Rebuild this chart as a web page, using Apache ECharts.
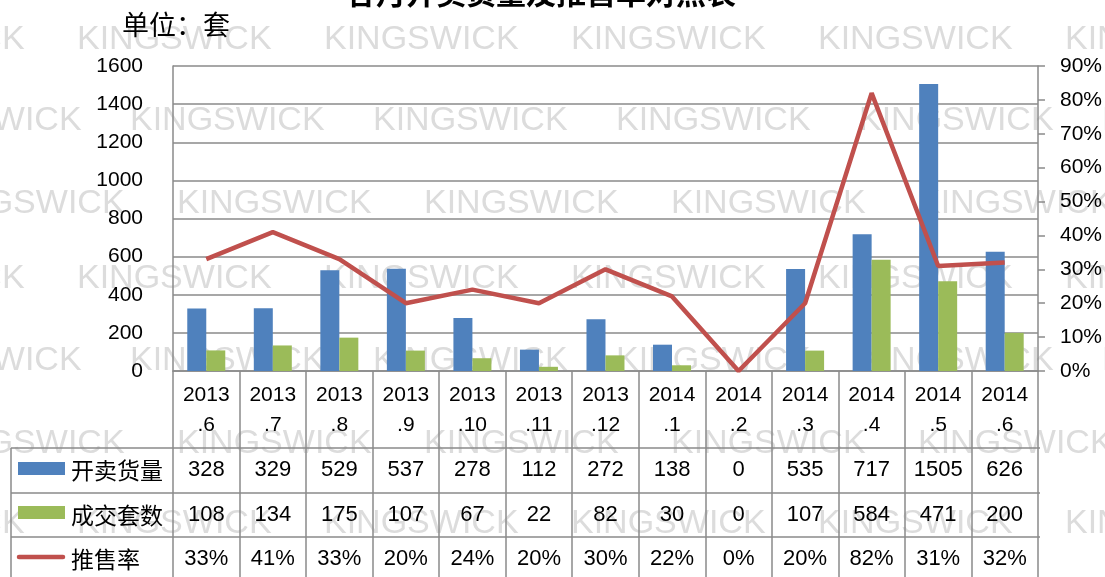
<!DOCTYPE html>
<html>
<head>
<meta charset="utf-8">
<script src="https://cdn.jsdelivr.net/npm/echarts@6/dist/echarts.min.js"></script>
<style>html,body{margin:0;padding:0;background:#fff;}#c{width:1105px;height:577px;}</style>
</head>
<body>
<div id="c"></div>
<script>
const titleText = '各月开卖货量及推售率对照表';
const unitText = '单位：套';
const categories = ['2013.6','2013.7','2013.8','2013.9','2013.10','2013.11','2013.12','2014.1','2014.2','2014.3','2014.4','2014.5','2014.6'];
const seriesNames = ['开卖货量','成交套数','推售率'];
const supplyValues = [328,329,529,537,278,112,272,138,0,535,717,1505,626];
const dealValues = [108,134,175,107,67,22,82,30,0,107,584,471,200];
const rateValues = [33,41,33,20,24,20,30,22,0,20,82,31,32];
const leftAxis = {min:0, max:1600, interval:200};
const rightAxis = {min:0, max:90, interval:10};
const watermarkWord = 'KINGSWICK';

const colors = ['#4F81BD','#9BBB59','#C0504D'];
const gridColor = '#8a8a8a';
const numFont = '"Liberation Sans", Arial, sans-serif';
const cjkFont = '"Noto Sans CJK SC", sans-serif';

const chart = echarts.init(document.getElementById('c'), null, {renderer:'canvas'});

const option = {
  animation:false,
  backgroundColor:'#fff',
  grid:{left:173, right:65, top:66, bottom:206, containLabel:false},
  xAxis:{
    type:'category', data:categories, boundaryGap:true,
    axisLine:{show:true, lineStyle:{color:gridColor, width:1.5}},
    axisTick:{show:true, length:212, lineStyle:{color:gridColor, width:1.5}},
    axisLabel:{
      interval:0, margin:9, lineHeight:30, fontSize:21, color:'#000', fontFamily:numFont,
      formatter:function(v){ const p=v.indexOf('.'); return v.slice(0,p)+'\n'+v.slice(p); }
    },
    splitLine:{show:false}
  },
  yAxis:[
    {type:'value', min:leftAxis.min, max:leftAxis.max, interval:leftAxis.interval,
     axisLine:{show:true, lineStyle:{color:gridColor, width:1.5}},
     axisTick:{show:false},
     axisLabel:{margin:30, fontSize:21, color:'#000', fontFamily:numFont, formatter:function(v){return String(v);}},
     splitLine:{show:true, lineStyle:{color:gridColor, width:1.6}}},
    {type:'value', position:'right', min:rightAxis.min, max:rightAxis.max, interval:rightAxis.interval,
     axisLine:{show:true, lineStyle:{color:gridColor, width:1.5}},
     axisTick:{show:true, inside:false, length:7, lineStyle:{color:gridColor, width:1.5}},
     axisLabel:{margin:22, fontSize:21, color:'#000', fontFamily:numFont, formatter:'{value}%'},
     splitLine:{show:false}}
  ],
  series:[
    {name:seriesNames[0], type:'bar', data:supplyValues, barWidth:19, barGap:'0%', itemStyle:{color:colors[0]}},
    {name:seriesNames[1], type:'bar', data:dealValues, barWidth:19, barGap:'0%', itemStyle:{color:colors[1]}},
    {name:seriesNames[2], type:'line', yAxisIndex:1, data:rateValues, symbol:'none', showSymbol:false,
     lineStyle:{color:colors[2], width:4.5}, itemStyle:{color:colors[2]}, z:5}
  ]
};
chart.setOption(option);

const g = [];
const wmRows = [
  {y:40, x0:77, step:247},
  {y:121, x0:130, step:243},
  {y:204, x0:177, step:247},
  {y:279, x0:77, step:247},
  {y:361, x0:130, step:243},
  {y:444, x0:177, step:247},
  {y:524, x0:77, step:247}
];
wmRows.forEach(function(r){
  for (let x = r.x0 - r.step; x < 1105; x += r.step) {
    g.push({type:'text', z:-10, silent:true, x:x, y:r.y,
      style:{text:watermarkWord, fill:'#dcdcdc', font:'34px '+numFont, textVerticalAlign:'middle', textAlign:'left'}});
  }
});
g.push({type:'text', x:541, y:-7, z:10, style:{text:titleText, fill:'#000', font:'bold 30px '+cjkFont, textAlign:'center', textVerticalAlign:'middle'}});
g.push({type:'text', x:122, y:25, z:10, style:{text:unitText, fill:'#000', font:'27px '+cjkFont, textAlign:'left', textVerticalAlign:'middle'}});

const rightPx = 1040;
const rowLines = [448, 493, 537];
const rowCenters = [470, 515, 559];
rowLines.forEach(function(y){
  g.push({type:'line', z:10, shape:{x1:11, y1:y, x2:rightPx, y2:y}, style:{stroke:gridColor, lineWidth:1.5}});
});
g.push({type:'line', z:10, shape:{x1:11, y1:448, x2:11, y2:577}, style:{stroke:gridColor, lineWidth:1.5}});
const rows = [
  supplyValues.map(String),
  dealValues.map(String),
  rateValues.map(function(v){return v+'%';})
];
rows.forEach(function(row, ri){
  row.forEach(function(txt, ci){
    const cx = chart.convertToPixel({xAxisIndex:0}, ci);
    g.push({type:'text', z:10, x:cx, y:rowCenters[ri], style:{text:txt, fill:'#000', font:'22px '+numFont, textAlign:'center', textVerticalAlign:'middle'}});
  });
});
g.push({type:'rect', z:10, shape:{x:18, y:462, width:47, height:13}, style:{fill:colors[0]}});
g.push({type:'rect', z:10, shape:{x:18, y:506, width:47, height:13}, style:{fill:colors[1]}});
g.push({type:'line', z:10, shape:{x1:19, y1:557, x2:63, y2:557}, style:{stroke:colors[2], lineWidth:4.5, lineCap:'round'}});
seriesNames.forEach(function(n, i){
  g.push({type:'text', z:10, x:71, y:rowCenters[i], style:{text:n, fill:'#000', font:'23px '+cjkFont, textAlign:'left', textVerticalAlign:'middle'}});
});

chart.setOption({graphic:g});
</script>
</body>
</html>
